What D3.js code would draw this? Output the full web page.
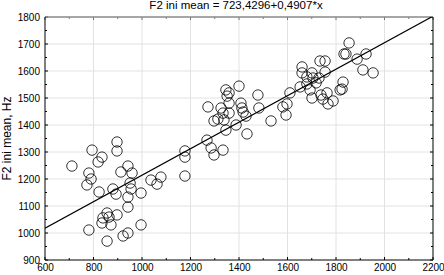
<!DOCTYPE html>
<html>
<head>
<meta charset="utf-8">
<script src="https://cdn.jsdelivr.net/npm/d3@7"></script>
<style>
  body { margin: 0; background: #fff; }
  text { font-family: "Liberation Sans", Arial, sans-serif; }
</style>
</head>
<body>
<div id="chart"></div>
<script>
/* scatter of F2 ini mean with linear fit */

const xVals = [711, 794, 897, 897, 835, 819, 781, 790, 773, 942,
    913, 959, 1037, 1062, 1078, 823, 880, 893, 955, 951,
    942, 996, 942, 856, 839, 864, 897, 835, 872, 996,
    781, 922, 942, 856, 1177, 1177, 1177, 1268, 1285, 1297,
    1334, 1400, 1346, 1359, 1351, 1359, 1478, 1272, 1326, 1334,
    1359, 1313, 1297, 1338, 1408, 1412, 1417, 1429, 1482, 1388,
    1346, 1433, 1532, 1581, 1598, 1610, 1594, 1660, 1660, 1680,
    1701, 1705, 1734, 1755, 1755, 1730, 1718, 1680, 1652, 1693,
    1701, 1738, 1763, 1746, 1767, 1788, 1817, 1854, 1833, 1841,
    1887, 1924, 1911, 1953, 1829, 1825];

const yVals = [1248, 1307, 1337, 1304, 1281, 1263, 1222, 1200, 1178, 1248,
    1226, 1222, 1196, 1181, 1207, 1152, 1163, 1144, 1163, 1185,
    1133, 1148, 1096, 1074, 1056, 1059, 1067, 1037, 1030, 1030,
    1011, 989, 1000, 970, 1281, 1211, 1304, 1344, 1315, 1289,
    1307, 1544, 1530, 1519, 1507, 1481, 1511, 1467, 1463, 1444,
    1444, 1422, 1415, 1419, 1481, 1463, 1448, 1433, 1463, 1400,
    1381, 1367, 1415, 1467, 1478, 1519, 1437, 1615, 1593, 1578,
    1593, 1574, 1637, 1637, 1596, 1574, 1556, 1552, 1541, 1530,
    1500, 1511, 1519, 1496, 1478, 1489, 1530, 1704, 1663, 1663,
    1644, 1663, 1604, 1593, 1559, 1533];

const intercept = 723.4296, slope = 0.4907;
const titleText = "F2 ini mean = 723,4296+0,4907*x";
const yLabel = "F2 ini mean, Hz";
const xTicks = [600, 800, 1000, 1200, 1400, 1600, 1800, 2000, 2200];
const yTicks = [900, 1000, 1100, 1200, 1300, 1400, 1500, 1600, 1700, 1800];

const width = 444, height = 275,
    margin = ({top: 17, right: 11, bottom: 15, left: 45});

const data = xVals.map((v, i) => ({x: v, y: yVals[i]}));

let svg = d3.select("#chart")
    .append("svg")
    .attr("width", width)
    .attr("height", height);

const x = d3.scaleLinear()
    .domain([600, 2200])
    .range([margin.left, width - margin.right]);

const y = d3.scaleLinear()
    .domain([900, 1800])
    .range([height - margin.bottom, margin.top]);

// grid
svg.append("g")
    .selectAll("line")
    .data(xTicks.slice(1, -1))
    .join("line")
    .attr("x1", d => x(d)).attr("x2", d => x(d))
    .attr("y1", y(900)).attr("y2", y(1800))
    .attr("stroke", "#e2e2e2");

svg.append("g")
    .selectAll("line")
    .data(yTicks.slice(1, -1))
    .join("line")
    .attr("x1", x(600)).attr("x2", x(2200))
    .attr("y1", d => y(d)).attr("y2", d => y(d))
    .attr("stroke", "#e2e2e2");

// axes with inward ticks
const xMinor = d3.range(600, 2201, 100);
const yMinor = d3.range(900, 1801, 50);

svg.append("g")
    .attr("transform", `translate(0,${y(900)})`)
    .call(d3.axisBottom(x).tickValues(xTicks).tickSize(0).tickPadding(4).tickFormat(d3.format("d")))
    .call(g => g.select(".domain").remove())
    .call(g => g.selectAll("text").attr("font-size", 10).attr("fill", "#000"));

svg.append("g")
    .attr("transform", `translate(${x(600)},0)`)
    .call(d3.axisLeft(y).tickValues(yTicks).tickSize(0).tickPadding(5).tickFormat(d3.format("d")))
    .call(g => g.select(".domain").remove())
    .call(g => g.selectAll("text").attr("font-size", 10).attr("fill", "#000"));

let ticks = svg.append("g").attr("stroke", "#000").attr("stroke-width", 1);
ticks.selectAll(".xb").data(xMinor).join("line")
    .attr("x1", d => x(d)).attr("x2", d => x(d))
    .attr("y1", y(900)).attr("y2", d => y(900) - (d % 200 === 0 ? 3 : 2));
ticks.selectAll(".xt").data(xMinor).join("line")
    .attr("x1", d => x(d)).attr("x2", d => x(d))
    .attr("y1", y(1800)).attr("y2", d => y(1800) + (d % 200 === 0 ? 3 : 2))
    .attr("stroke", "#777");
ticks.selectAll(".yl").data(yMinor).join("line")
    .attr("y1", d => y(d)).attr("y2", d => y(d))
    .attr("x1", x(600)).attr("x2", d => x(600) + (d % 100 === 0 ? 3 : 2));
ticks.selectAll(".yr").data(yMinor).join("line")
    .attr("y1", d => y(d)).attr("y2", d => y(d))
    .attr("x1", x(2200)).attr("x2", d => x(2200) - (d % 100 === 0 ? 3 : 2));

// frame
svg.append("line")
    .attr("x1", x(600)).attr("x2", x(2200)).attr("y1", y(1800)).attr("y2", y(1800))
    .attr("stroke", "#888").attr("stroke-width", 1.6);
svg.append("line")
    .attr("x1", x(600)).attr("x2", x(2200)).attr("y1", y(900)).attr("y2", y(900))
    .attr("stroke", "#000");
svg.append("line")
    .attr("x1", x(600)).attr("x2", x(600)).attr("y1", y(900)).attr("y2", y(1800))
    .attr("stroke", "#000");
svg.append("line")
    .attr("x1", x(2200)).attr("x2", x(2200)).attr("y1", y(900)).attr("y2", y(1800))
    .attr("stroke", "#000");

// points
svg.append("g")
    .selectAll("circle")
    .data(data)
    .join("circle")
    .attr("cx", d => x(d.x))
    .attr("cy", d => y(d.y))
    .attr("r", 5.2)
    .attr("fill", "none")
    .attr("stroke", "#000")
    .attr("stroke-width", 0.8);

// regression line, clipped to plot area
svg.append("clipPath").attr("id", "plotclip")
    .append("rect")
    .attr("x", x(600)).attr("y", y(1800))
    .attr("width", x(2200) - x(600)).attr("height", y(900) - y(1800));

svg.append("line")
    .attr("clip-path", "url(#plotclip)")
    .attr("x1", x(600)).attr("y1", y(intercept + slope * 600))
    .attr("x2", x(2200)).attr("y2", y(intercept + slope * 2200))
    .attr("stroke", "#000")
    .attr("stroke-width", 1.2);

// texts
svg.append("text")
    .attr("x", (x(600) + x(2200)) / 2 - 3)
    .attr("y", 9)
    .attr("text-anchor", "middle")
    .attr("font-size", 11.5)
    .text(titleText);

svg.append("text")
    .attr("transform", `translate(11,${(y(900) + y(1800)) / 2}) rotate(-90)`)
    .attr("text-anchor", "middle")
    .attr("font-size", 12)
    .text(yLabel);
</script>
</body>
</html>
